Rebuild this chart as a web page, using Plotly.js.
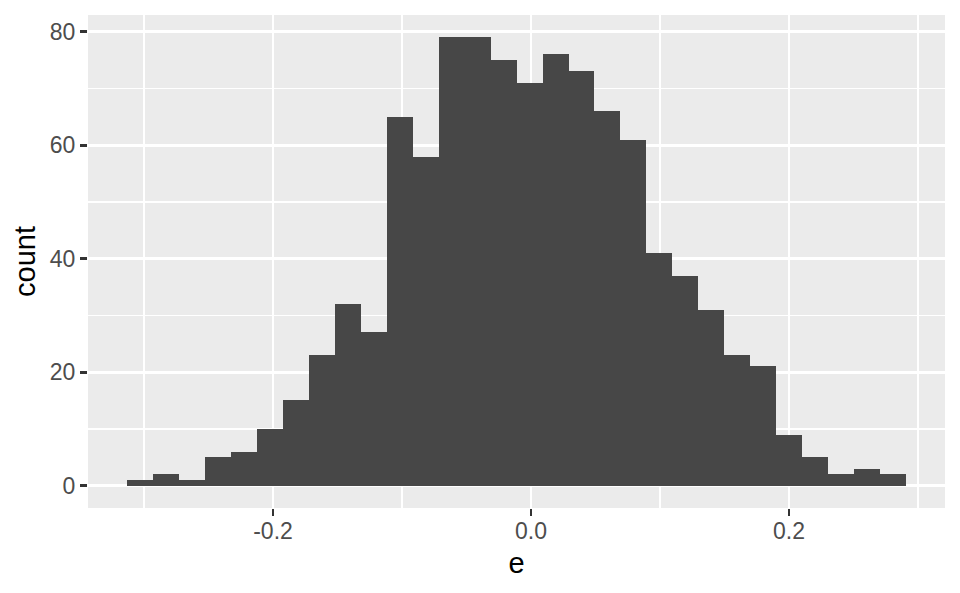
<!DOCTYPE html>
<html>
<head>
<meta charset="utf-8">
<script src="https://cdn.plot.ly/plotly-3.0.1.min.js"></script>
<style>
  html, body { margin: 0; padding: 0; background: #ffffff; }
  #chart { width: 960px; height: 593px; }
</style>
</head>
<body>
<div id="chart"></div>
<script>
// Histogram bin centres (variable e) and counts
const binCenters = [
  -0.3031, -0.2830, -0.2628, -0.2427, -0.2226, -0.2024, -0.1823, -0.1622, -0.1421, -0.1219,
  -0.1018, -0.0817, -0.0615, -0.0414, -0.0213, -0.0011, 0.0190, 0.0391, 0.0592, 0.0794,
  0.0995, 0.1196, 0.1398, 0.1599, 0.1800, 0.2001, 0.2203, 0.2404, 0.2605, 0.2807
];
const binWidth = 0.02013;
const counts = [
  1, 2, 1, 5, 6, 10, 15, 23, 32, 27,
  65, 58, 79, 79, 75, 71, 76, 73, 66, 61,
  41, 37, 31, 23, 21, 9, 5, 2, 3, 2
];
const xTickVals = [-0.2, 0.0, 0.2];
const xTickText = ["-0.2", "0.0", "0.2"];
const yTickVals = [0, 20, 40, 60, 80];
const yTickText = ["0", "20", "40", "60", "80"];

const trace = {
  type: 'bar',
  x: binCenters,
  y: counts,
  width: binCenters.map(() => binWidth),
  marker: { color: '#474747', line: { width: 0 } },
  hoverinfo: 'skip'
};

const tickFont = { family: 'Liberation Sans, Arial, sans-serif', size: 23, color: '#4d4d4d' };
const titleFont = { family: 'Liberation Sans, Arial, sans-serif', size: 29, color: '#000000' };

const layout = {
  width: 960,
  height: 593,
  margin: { l: 88, r: 15, t: 15, b: 85, pad: 0 },
  paper_bgcolor: '#ffffff',
  plot_bgcolor: '#ebebeb',
  showlegend: false,
  bargap: 0,
  xaxis: {
    range: [-0.3434, 0.3209],
    tickvals: xTickVals,
    ticktext: xTickText,
    tickfont: tickFont,
    ticks: 'outside',
    ticklen: 7,
    tickwidth: 2.8,
    tickcolor: '#333333',
    ticklabelstandoff: -5,
    showgrid: true,
    gridcolor: '#ffffff',
    gridwidth: 2.8,
    minor: { dtick: 0.1, tick0: 0, showgrid: true, gridcolor: '#ffffff', gridwidth: 1.4, ticks: '' },
    zeroline: false,
    showline: false,
    title: { text: 'e', font: titleFont, standoff: 10 }
  },
  yaxis: {
    range: [-3.95, 82.95],
    tickvals: yTickVals,
    ticktext: yTickText,
    tickfont: tickFont,
    ticks: 'outside',
    ticklen: 7,
    tickwidth: 2.8,
    tickcolor: '#333333',
    ticklabelstandoff: 0,
    showgrid: true,
    gridcolor: '#ffffff',
    gridwidth: 2.8,
    minor: { dtick: 10, tick0: 0, showgrid: true, gridcolor: '#ffffff', gridwidth: 1.4, ticks: '' },
    zeroline: false,
    showline: false,
    title: { text: 'count', font: titleFont, standoff: 5 }
  }
};

Plotly.newPlot('chart', [trace], layout, { staticPlot: true, displayModeBar: false });
</script>
</body>
</html>
